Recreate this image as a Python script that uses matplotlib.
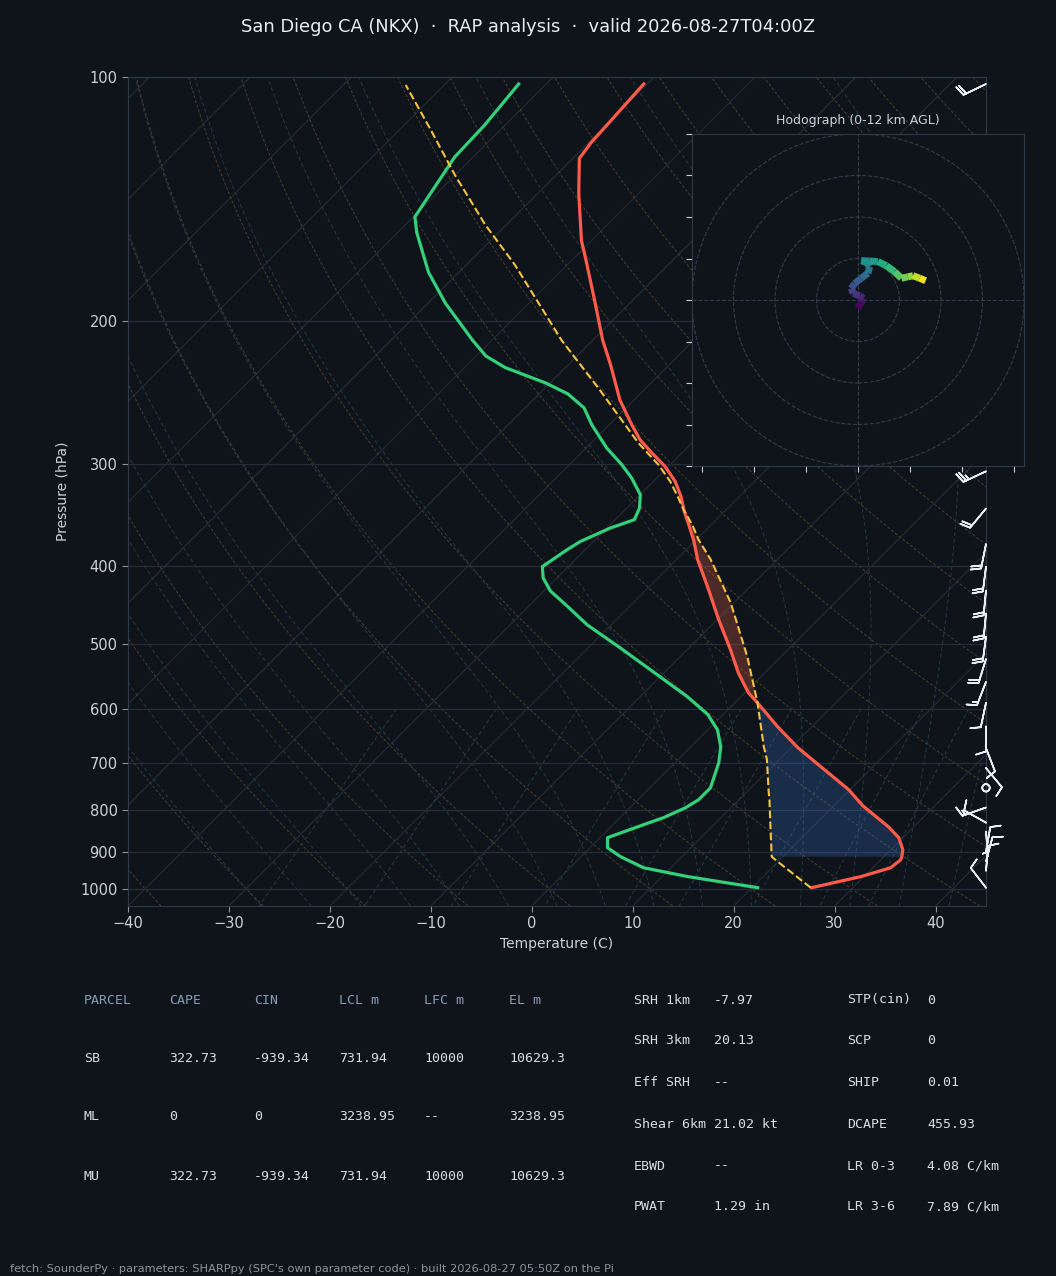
import numpy as np
import matplotlib
matplotlib.use("Agg")
import matplotlib.pyplot as plt
from matplotlib import transforms as mtransforms
from matplotlib.collections import LineCollection
from matplotlib.colors import Normalize
from matplotlib.ticker import FixedLocator, FixedFormatter, NullLocator

# ---------------- data ----------------
p_env = [996.8, 982.8, 966, 942, 921, 913, 895, 865, 839, 790, 755, 699, 670, 631.5, 590,
         573.5, 542, 507.6, 466, 428, 393, 371.6, 356, 343, 328.7, 315, 301.9, 290.6,
         279.9, 268.2, 250, 226, 211, 188, 168, 159, 139, 126, 120.6, 102]
t_env = [25.92, 27.61, 29.70, 31.77, 31.97, 31.78, 31.18, 29.59, 27.51, 22.85, 19.88, 13.93,
         10.66, 6.60, 2.23, 0.34, -2.63, -5.70, -9.86, -13.83, -17.89, -20.25, -22.23, -23.96,
         -25.78, -27.84, -30.32, -32.95, -35.44, -37.76, -41.39, -45.85, -49.02, -53.87,
         -58.64, -61.01, -65.97, -69.34, -69.74, -70.34]

p_dew = [996.8, 966, 942, 913, 890, 865, 839, 817, 794.5, 777, 751, 699, 668, 637, 610, 580,
         545, 505, 473, 449, 429.5, 414, 401, 382.3, 373.4, 359.5, 351, 339.7, 327, 312,
         300.4, 286.5, 268.2, 255.6, 245.7, 238.1, 228, 220.6, 211, 190, 174, 155.6, 148.7,
         125.5, 114.6, 102]
td_env = [20.56, 12.54, 7.28, 3.92, 1.73, 0.74, 2.63, 4.32, 5.50, 6.00, 6.00, 4.32, 2.93,
          0.94, -1.53, -5.31, -10.46, -16.80, -22.36, -26.12, -29.39, -31.38, -32.57, -31.80,
          -31.30, -29.67, -28.11, -28.74, -29.99, -32.48, -34.78, -37.93, -41.72, -44.17,
          -47.15, -50.48, -55.98, -59.05, -61.91, -68.26, -73.01, -78.07, -79.85, -81.83,
          -82.03, -82.73]

p_parcel = [996.8, 926, 913, 846, 777, 761, 693, 668, 590, 518, 444, 393, 371.6, 356, 341.3,
            330.2, 315, 300.4, 282.5, 268.2, 243, 211, 170.4, 152, 132, 116, 102.3]
t_parcel = [25.82, 19.98, 18.89, 16.11, 13.03, 12.23, 8.78, 7.19, 2.23, -3.32, -10.36, -16.60,
            -19.75, -21.89, -24.21, -25.87, -28.33, -31.15, -35.28, -38.42, -44.37, -53.09,
            -65.18, -72.12, -80.05, -86.98, -93.82]

lcl_p = 913
lfc_p = 590
el_p = 341.3

barb_p = [102, 306, 340, 376, 401, 429, 458, 489, 521, 556, 590, 631, 671, 710, 751, 794,
          829, 850, 900, 925, 950, 997]
barb_u = [18.0, 22.7, 12.7, 3.9, 2.5, 1.9, 1.9, 2.6, 5.9, 5.4, 2.1, 0.0, -3.6, -6.4, 0.0,
          14.1, 8.7, -0.4, -1.7, -2.6, -0.9, 6.1]
barb_v = [8.7, 10.6, 15.4, 19.6, 19.8, 19.9, 19.9, 19.8, 19.1, 14.0, 9.8, 10.0, 9.3, 7.7,
          0.0, 5.0, -4.9, 5.0, -9.8, -9.7, -10.0, -7.9]

hodo_u = [0.0, 1.6, 2.7, 0.8, -2.4, -3.2, -1.6, 1.6, 4.8, 5.6, 4.0, 1.6, 5.6, 9.6, 13.7,
          17.7, 20.9, 24.1, 26.5, 29.7, 32.6]
hodo_v = [-4.0, -0.8, 0.8, 2.1, 3.2, 5.6, 8.0, 10.5, 12.9, 16.0, 18.2, 18.9, 18.8, 18.5,
          16.5, 13.6, 10.5, 11.2, 11.7, 10.5, 9.3]
hodo_z = [0.0, 0.5, 1.0, 1.5, 2.0, 2.6, 3.2, 3.8, 4.4, 5.0, 5.5, 5.9, 6.3, 7.0, 7.7, 8.4,
          9.1, 9.8, 10.5, 11.2, 12.0]

x_ticks = [-40, -30, -20, -10, 0, 10, 20, 30, 40]
p_ticks = [100, 200, 300, 400, 500, 600, 700, 800, 900, 1000]

title = "San Diego CA (NKX)  \u00b7  RAP analysis  \u00b7  valid 2026-08-27T04:00Z"
footer = ("fetch: SounderPy \u00b7 parameters: SHARPpy (SPC's own parameter code) \u00b7 "
          "built 2026-08-27 05:50Z on the Pi")

table_header = ["PARCEL", "CAPE", "CIN", "LCL m", "LFC m", "EL m"]
parcel_names = ["SB", "ML", "MU"]
parcel_cape = ["322.73", "0", "322.73"]
parcel_cin = ["-939.34", "0", "-939.34"]
parcel_lcl = ["731.94", "3238.95", "731.94"]
parcel_lfc = ["10000", "--", "10000"]
parcel_el = ["10629.3", "3238.95", "10629.3"]

kin_labels = ["SRH 1km", "SRH 3km", "Eff SRH", "Shear 6km", "EBWD", "PWAT"]
kin_values = ["-7.97", "20.13", "--", "21.02 kt", "--", "1.29 in"]
cmp_labels = ["STP(cin)", "SCP", "SHIP", "DCAPE", "LR 0-3", "LR 3-6"]
cmp_values = ["0", "0", "0.01", "455.93", "4.08 C/km", "7.89 C/km"]

# ---------------- style ----------------
BG = "#0f141b"
SPINE = "#2f3a48"
TICKC = "#c9d1d9"
W, H = 1056, 1276

fig = plt.figure(figsize=(W / 100, H / 100), dpi=100, facecolor=BG)

ax_l, ax_r, ax_t, ax_b = 128, 986, 77, 906
ax = fig.add_axes([ax_l / W, 1 - ax_b / H, (ax_r - ax_l) / W, (ax_b - ax_t) / H])
ax.set_facecolor(BG)
ax.autoscale(False)
ax.set_yscale("log")
ax.set_xlim(-40, 45)
ax.set_ylim(1050, 100)

k = (ax_b - ax_t) / (ax_r - ax_l)   # 45 degree skew in pixels
skew = mtransforms.Affine2D(np.array([[1.0, k, 0.0], [0.0, 1.0, 0.0], [0.0, 0.0, 1.0]]))
trans = ax.transScale + ax.transLimits + skew + ax.transAxes

# background lines
pgrid = np.linspace(1050, 100, 120)
for t0 in np.arange(-130, 50, 10):
    ax.plot([t0, t0], [1050, 100], transform=trans, color="#282e37", lw=0.75, zorder=1)

for th in np.arange(-50, 201, 10):
    tt = (th + 273.15) * (pgrid / 1000.0) ** 0.2857 - 273.15
    ax.plot(tt, pgrid, transform=trans, color="#4c3f2c", lw=0.7, ls=(0, (3, 2)), zorder=1)

Rd, Cp, Lv, eps = 287.04, 1005.7, 2.501e6, 0.622


def dtdp(p, T):
    tc = T - 273.15
    es = 6.112 * np.exp(17.67 * tc / (tc + 243.5))
    rs = eps * es / (p - es)
    return (1.0 / p) * (Rd * T + Lv * rs) / (Cp + Lv * Lv * rs * eps / (Rd * T * T))


def integrate(T0, ps):
    out = [T0]
    T = T0
    for i in range(len(ps) - 1):
        p, h = ps[i], ps[i + 1] - ps[i]
        k1 = dtdp(p, T)
        k2 = dtdp(p + h / 2, T + h / 2 * k1)
        k3 = dtdp(p + h / 2, T + h / 2 * k2)
        k4 = dtdp(p + h, T + h * k3)
        T = T + h / 6 * (k1 + 2 * k2 + 2 * k3 + k4)
        out.append(T)
    return np.array(out)


p_up = np.linspace(1000, 100, 150)
p_dn = np.linspace(1000, 1050, 10)
for t0 in np.arange(-30, 41, 5):
    up = integrate(t0 + 273.15, p_up)
    dn = integrate(t0 + 273.15, p_dn)
    pp = np.concatenate([p_dn[::-1], p_up[1:]])
    tt = np.concatenate([dn[::-1], up[1:]]) - 273.15
    ax.plot(tt, pp, transform=trans, color="#253a48", lw=0.7, ls=(0, (4, 3)), zorder=1)

pm = np.linspace(600, 1050, 40)
for w in [0.0004, 0.001, 0.002, 0.004, 0.007, 0.01, 0.016, 0.024, 0.032]:
    e = pm * w / (eps + w)
    le = np.log(e / 6.112)
    td = 243.5 * le / (17.67 - le)
    ax.plot(td, pm, transform=trans, color="#263c46", lw=0.7, ls=(0, (4, 3)), zorder=1)

# CAPE / CIN shading
pp_ = np.array(p_parcel); tp_ = np.array(t_parcel)
pe_ = np.array(p_env); te_ = np.array(t_env)
m1 = (pp_ <= lfc_p) & (pp_ >= el_p)
m2 = (pe_ <= lfc_p) & (pe_ >= 343)
ax.fill(np.concatenate([tp_[m1], te_[m2][::-1]]), np.concatenate([pp_[m1], pe_[m2][::-1]]),
        transform=trans, color="#ff6a4a", alpha=0.25, lw=0, zorder=2)
m3 = (pp_ <= lcl_p) & (pp_ >= lfc_p)
m4 = (pe_ <= lcl_p) & (pe_ >= lfc_p)
ax.fill(np.concatenate([tp_[m3], te_[m4][::-1]]), np.concatenate([pp_[m3], pe_[m4][::-1]]),
        transform=trans, color="#3f86f0", alpha=0.22, lw=0, zorder=2)

# profiles
ax.plot(t_env, p_env, transform=trans, color="#ff5a4a", lw=2.3, zorder=5, solid_joinstyle="round")
ax.plot(td_env, p_dew, transform=trans, color="#34d07a", lw=2.3, zorder=5, solid_joinstyle="round")
ax.plot(t_parcel, p_parcel, transform=trans, color="#f5c242", lw=1.5, ls="--", zorder=6)

# axes styling
ax.yaxis.set_major_locator(FixedLocator(p_ticks))
ax.yaxis.set_major_formatter(FixedFormatter([str(v) for v in p_ticks]))
ax.yaxis.set_minor_locator(NullLocator())
ax.set_xticks(x_ticks)
ax.grid(axis="y", color="#262d38", lw=0.9)
ax.grid(axis="x", visible=False)
for s in ax.spines.values():
    s.set_color(SPINE)
ax.tick_params(colors="#8b949e", labelcolor=TICKC, labelsize=10.5, length=4)
ax.set_xlabel("Temperature (C)", color=TICKC, fontsize=10, labelpad=4)
ax.set_ylabel("Pressure (hPa)", color=TICKC, fontsize=10, labelpad=8)

# wind barbs on the right edge
ax.barbs(np.ones(len(barb_p)), barb_p, barb_u, barb_v, transform=ax.get_yaxis_transform(),
         clip_on=False, length=6, color="#e6edf3", linewidth=1.2, zorder=8)

# hodograph
h_l, h_r, h_t, h_b = 692, 1024, 134, 466
hax = fig.add_axes([h_l / W, 1 - h_b / H, (h_r - h_l) / W, (h_b - h_t) / H])
hax.set_facecolor(BG)
hax.set_xlim(-80, 80)
hax.set_ylim(-80, 80)
for r in [20, 40, 60, 80]:
    hax.add_patch(plt.Circle((0, 0), r, fill=False, ls="--", color="#333d4b", lw=0.8))
hax.axhline(0, ls="--", color="#333d4b", lw=0.8)
hax.axvline(0, ls="--", color="#333d4b", lw=0.8)
hax.set_xticks([-75, -50, -25, 0, 25, 50, 75])
hax.set_yticks(list(range(-80, 81, 20)))
hax.tick_params(labelbottom=False, labelleft=False, colors="#c9d1d9", length=4)
for s in hax.spines.values():
    s.set_color(SPINE)
pts = np.array([hodo_u, hodo_v]).T.reshape(-1, 1, 2)
segs = np.concatenate([pts[:-1], pts[1:]], axis=1)
zmid = 0.5 * (np.array(hodo_z[:-1]) + np.array(hodo_z[1:]))
lc = LineCollection(segs, cmap="viridis", norm=Normalize(0, 12), linewidth=5, capstyle="butt")
lc.set_array(zmid)
hax.add_collection(lc)
hax.set_title("Hodograph (0-12 km AGL)", color=TICKC, fontsize=9, pad=7)

# title
fig.text(0.5, 1 - 27 / H, title, ha="center", va="center", fontsize=12.9, color="#e6edf3")

# parcel table
mono = "DejaVu Sans Mono"
HDR = "#8b9bb4"
VAL = "#d7dde3"
col_x = [84, 169, 254, 339, 424, 509]
fs = 9.5
for j, txt in enumerate(table_header):
    fig.text(col_x[j] / W, 1 - 1000 / H, txt, family=mono, fontsize=fs, color=HDR, va="center")
rows_y = [1058, 1117, 1176]
cols = [parcel_names, parcel_cape, parcel_cin, parcel_lcl, parcel_lfc, parcel_el]
for i, y in enumerate(rows_y):
    for j in range(6):
        fig.text(col_x[j] / W, 1 - y / H, cols[j][i], family=mono, fontsize=fs, color=VAL, va="center")

rp_y = [1000, 1041, 1083, 1124, 1166, 1207]
for i, y in enumerate(rp_y):
    fig.text(634 / W, 1 - y / H, kin_labels[i], family=mono, fontsize=fs, color=VAL, va="center")
    fig.text(714 / W, 1 - y / H, kin_values[i], family=mono, fontsize=fs, color=VAL, va="center")
    fig.text(847 / W, 1 - y / H, cmp_labels[i], family=mono, fontsize=fs, color=VAL, va="center")
    fig.text(927 / W, 1 - y / H, cmp_values[i], family=mono, fontsize=fs, color=VAL, va="center")

fig.text(10 / W, 1 - 1269 / H, footer, fontsize=8.2, color="#8b949e", va="center")

fig.savefig("out.png", dpi=100, facecolor=BG)
